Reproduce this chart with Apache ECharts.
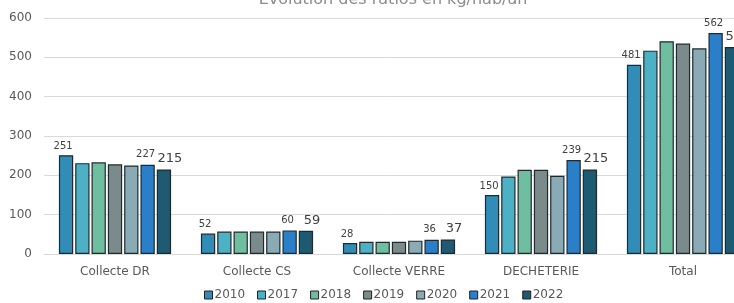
<!DOCTYPE html>
<html>
<head>
<meta charset="utf-8">
<script src="https://cdn.jsdelivr.net/npm/echarts@6/dist/echarts.min.js"></script>
<style>
  html, body { margin: 0; padding: 0; background: #fff; }
  #chart { width: 734px; height: 303px; }
</style>
</head>
<body>
<div id="chart"></div>
<script>
// données (kg/hab/an)
var categories = ['Collecte DR', 'Collecte CS', 'Collecte VERRE', 'DECHETERIE', 'Total'];
var years = ['2010', '2017', '2018', '2019', '2020', '2021', '2022'];
var v2010 = [251, 52, 28, 150, 481];
var v2017 = [231, 57, 31, 197, 517];
var v2018 = [233, 57, 31, 214, 541];
var v2019 = [228, 57, 31, 214, 535];
var v2020 = [225, 57, 34, 199, 523];
var v2021 = [227, 60, 36, 239, 562];
var v2022 = [215, 59, 37, 215, 526];
var yTicks = [0, 100, 200, 300, 400, 500, 600];

var values = [v2010, v2017, v2018, v2019, v2020, v2021, v2022];
var colors = ['#318db8', '#4db1c6', '#6fbe9f', '#7b8b8c', '#8aabb5', '#2b7fc9', '#1e5a72'];

// seules 2010, 2021 et 2022 ont des étiquettes
var labelCfg = {
  0: { show: true, position: 'top', fontSize: 10, offset: [-3, 1] },
  5: { show: true, position: 'top', fontSize: 10, offset: [-2, 0] },
  6: { show: true, position: 'top', fontSize: 13, offset: [6, 1] }
};

var series = years.map(function (y, i) {
  var lab = labelCfg[i] || { show: false };
  return {
    name: y,
    type: 'bar',
    data: values[i],
    barGap: '14%',
    barCategoryGap: '21%',
    itemStyle: { color: colors[i], borderColor: '#1f2a2e', borderWidth: 1.2 },
    label: {
      show: lab.show,
      position: lab.position,
      fontSize: lab.fontSize,
      offset: lab.offset,
      color: '#404040',
      fontFamily: 'DejaVu Sans'
    }
  };
});

var myChart = echarts.init(document.getElementById('chart'));
var option = {
  backgroundColor: '#fff',
  animation: false,
  textStyle: { fontFamily: 'DejaVu Sans' },
  title: {
    text: 'Evolution des ratios en kg/hab/an',
    left: 388,
    textAlign: 'center',
    top: -13,
    textStyle: { fontSize: 16, fontWeight: 'normal', color: '#8c8c8c', fontFamily: 'DejaVu Sans' }
  },
  legend: {
    data: years,
    bottom: -3,
    left: 199,
    itemWidth: 8,
    itemHeight: 8,
    itemGap: 12,
    icon: 'rect',
    textStyle: { fontSize: 12, color: '#595959', padding: [0, 0, 0, -3] },
    itemStyle: { borderColor: '#222', borderWidth: 1 }
  },
  grid: { left: 44, width: 710, top: 18, bottom: 49, outerBoundsMode: 'none' },
  xAxis: {
    type: 'category',
    data: categories,
    axisTick: { show: false },
    axisLine: { lineStyle: { color: '#d9d9d9' } },
    axisLabel: { color: '#595959', fontSize: 12, margin: 12 }
  },
  yAxis: {
    type: 'value',
    min: yTicks[0],
    max: yTicks[yTicks.length - 1],
    interval: 100,
    axisLine: { show: false },
    axisTick: { show: false },
    axisLabel: { color: '#595959', fontSize: 12, margin: 12 },
    splitLine: { lineStyle: { color: '#d9d9d9' } }
  },
  series: series
};
if (option && typeof option === 'object') {
  myChart.setOption(option, true);
}
</script>
</body>
</html>
